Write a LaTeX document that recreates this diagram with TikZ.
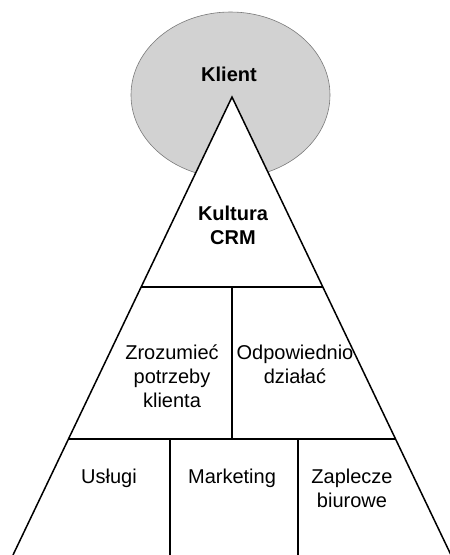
\documentclass[tikz,border=0pt]{standalone}
\usepackage{fontspec}
\setmainfont{Liberation Sans}
\usetikzlibrary{calc}
\definecolor{clientgray}{HTML}{D2D2D2}
\definecolor{rimgray}{HTML}{7A7A7A}
\begin{document}
\begin{tikzpicture}[x=1pt,y=-1pt,
  lbl/.style={font=\fontsize{20}{24}\selectfont, align=center, inner sep=0pt, anchor=base},
  blbl/.style={lbl, font=\fontsize{20}{24}\selectfont\bfseries},
  edge/.style={line width=1.5pt, line join=miter, line cap=butt}]
\useasboundingbox (0,0) rectangle (450,555);
\fill[white] (0,0) rectangle (450,555);

% the client circle behind the pyramid
\draw[rimgray, line width=0.6pt, fill=clientgray] (230.5,95) ellipse [x radius=99.5, y radius=83];

% pyramid outline
\coordinate (apex) at (232,97);
\coordinate (bl) at (13,555);
\coordinate (br) at (451,555);
\fill[white] (apex) -- (bl) -- (br) -- cycle;
\draw[edge] (bl) -- (apex) -- (br);

% level boundaries on the sides
\coordinate (l1) at ($(apex)!0.4148!(bl)$);
\coordinate (r1) at ($(apex)!0.4148!(br)$);
\coordinate (l2) at ($(apex)!0.7467!(bl)$);
\coordinate (r2) at ($(apex)!0.7467!(br)$);
\draw[edge] (l1) -- (r1);
\draw[edge] (l2) -- (r2);

% dividers inside the levels
\coordinate (m1) at (232,287);
\coordinate (m2) at (232,439);
\coordinate (b1t) at (170,439);
\coordinate (b1b) at (170,556);
\coordinate (b2t) at (298,439);
\coordinate (b2b) at (298,556);
\draw[edge] (m1) -- (m2);
\draw[edge] (b1t) -- (b1b);
\draw[edge] (b2t) -- (b2b);

% labels (base anchor sits on the last line)
\node[blbl] (klient) at (229,81) {Klient};
\node[blbl] (kultura) at (233,244) {Kultura\\CRM};
\node[lbl] (zrozumiec) at (172,407) {Zrozumieć\\potrzeby\\klienta};
\node[lbl] (odpowiednio) at (295,383) {Odpowiednio\\działać};
\node[lbl] (uslugi) at (109,483) {Usługi};
\node[lbl] (marketing) at (232,483) {Marketing};
\node[lbl] (zaplecze) at (352,507) {Zaplecze\\biurowe};
\end{tikzpicture}
\end{document}
